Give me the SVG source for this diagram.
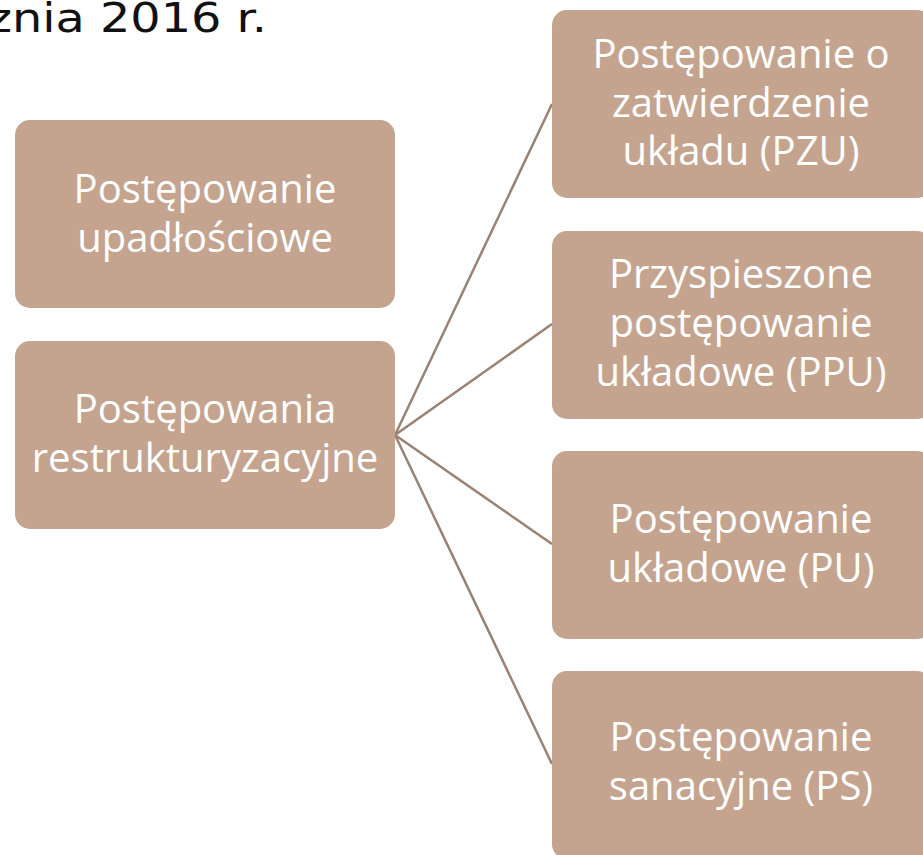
<svg xmlns="http://www.w3.org/2000/svg" width="923" height="855" viewBox="0 0 923 855">
<style>
.box{fill:#c5a48f;}
.t{font-family:"Open Sans","Noto Sans","DejaVu Sans",sans-serif;font-size:40px;fill:#ffffff;text-anchor:middle;}
.c{stroke:#9b8272;stroke-width:2.5;fill:none;}
.title{font-family:"DejaVu Sans","Open Sans",sans-serif;font-size:40px;fill:#111111;}
</style>
<rect width="923" height="855" fill="#ffffff"/>
<text class="title" x="-13" y="32" textLength="280" lengthAdjust="spacingAndGlyphs">znia 2016 r.</text>
<g id="connectors">
<line class="c" x1="395" y1="435" x2="552" y2="104"/>
<line class="c" x1="395" y1="435" x2="552" y2="324"/>
<line class="c" x1="395" y1="435" x2="552" y2="544"/>
<line class="c" x1="395" y1="435" x2="552" y2="764"/>
</g>
<g id="upadlosciowe">
<rect class="box" x="15" y="120" width="380" height="188" rx="15"/>
<text class="t" x="205" y="203">Postępowanie</text>
<text class="t" x="205" y="252">upadłościowe</text>
</g>
<g id="restrukturyzacyjne">
<rect class="box" x="15" y="341" width="380" height="188" rx="15"/>
<text class="t" x="205" y="423">Postępowania</text>
<text class="t" x="205" y="472">restrukturyzacyjne</text>
</g>
<g id="pzu">
<rect class="box" x="552" y="10" width="380" height="188" rx="15"/>
<text class="t" x="741" y="68">Postępowanie o</text>
<text class="t" x="741" y="117">zatwierdzenie</text>
<text class="t" x="741" y="165">układu (PZU)</text>
</g>
<g id="ppu">
<rect class="box" x="552" y="231" width="380" height="188" rx="15"/>
<text class="t" x="741" y="288">Przyspieszone</text>
<text class="t" x="741" y="337">postępowanie</text>
<text class="t" x="741" y="386">układowe (PPU)</text>
</g>
<g id="pu">
<rect class="box" x="552" y="451" width="380" height="188" rx="15"/>
<text class="t" x="741" y="533">Postępowanie</text>
<text class="t" x="741" y="582">układowe (PU)</text>
</g>
<g id="ps">
<rect class="box" x="552" y="671" width="380" height="188" rx="15"/>
<text class="t" x="741" y="751">Postępowanie</text>
<text class="t" x="741" y="800">sanacyjne (PS)</text>
</g>
</svg>
